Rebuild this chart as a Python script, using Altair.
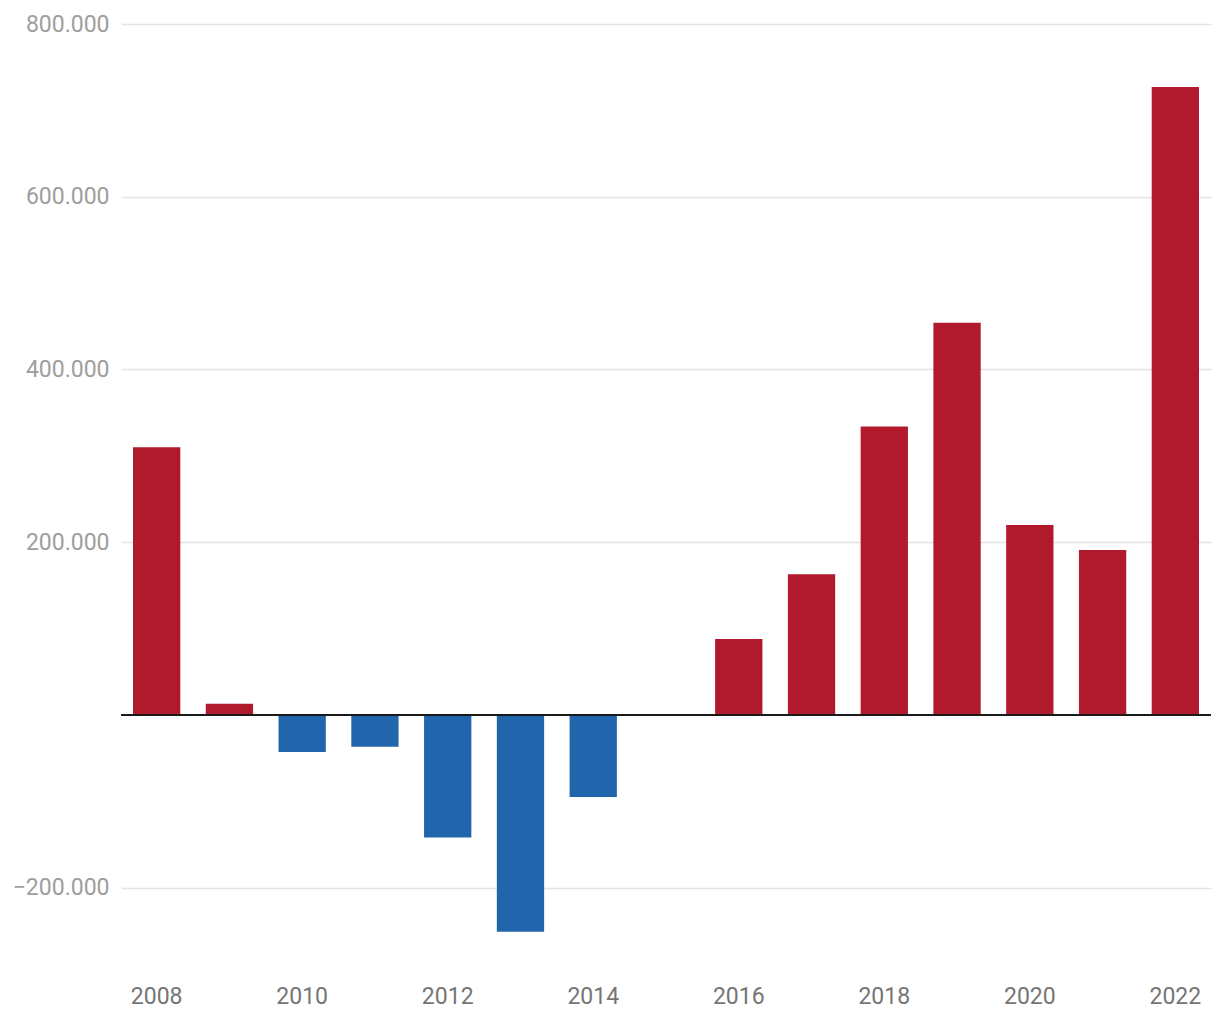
import altair as alt
import pandas as pd

years = [2008, 2009, 2010, 2011, 2012, 2013, 2014, 2015, 2016, 2017, 2018, 2019, 2020, 2021, 2022]
values = [310000, 13000, -43000, -37000, -142000, -251000, -95000, 0,
          88000, 163000, 334000, 454000, 220000, 191000, 727000]
x_ticks = [2008, 2010, 2012, 2014, 2016, 2018, 2020, 2022]
y_ticks = [-200000, 200000, 400000, 600000, 800000]

df = pd.DataFrame({"year": years, "value": values})
df["sign"] = ["pos" if v >= 0 else "neg" for v in values]

bars = alt.Chart(df).mark_bar().encode(
    x=alt.X("year:O",
            scale=alt.Scale(paddingInner=0.35, paddingOuter=0.165),
            axis=alt.Axis(values=x_ticks, labelAngle=0, ticks=False, domain=False,
                          title=None, labelFont="Roboto", labelFontSize=23,
                          labelColor="#757575", labelPadding=11, grid=False)),
    y=alt.Y("value:Q",
            scale=alt.Scale(domain=[-300000, 800000], nice=False, zero=False),
            axis=alt.Axis(values=y_ticks, title=None, ticks=False, domain=False,
                          labelFont="Roboto", labelFontSize=23, labelColor="#9e9e9e",
                          labelPadding=12, gridColor="#e4e4e4", gridWidth=1.5,
                          labelExpr="replace(format(datum.value, ',d'), ',', '.')")),
    color=alt.Color("sign:N",
                    scale=alt.Scale(domain=["pos", "neg"], range=["#b1192d", "#2166ac"]),
                    legend=None),
)

zero = alt.Chart(pd.DataFrame({"y": [0]})).mark_rule(color="#1a1a1a", strokeWidth=2).encode(
    y=alt.Y("y:Q")
)

chart = alt.layer(bars, zero).properties(
    width=1090, height=950,
    padding={"left": 4, "right": 0, "top": 5, "bottom": 0},
).configure_view(stroke=None)

chart.save("out.html", embed_options={"renderer": "svg", "actions": False})
